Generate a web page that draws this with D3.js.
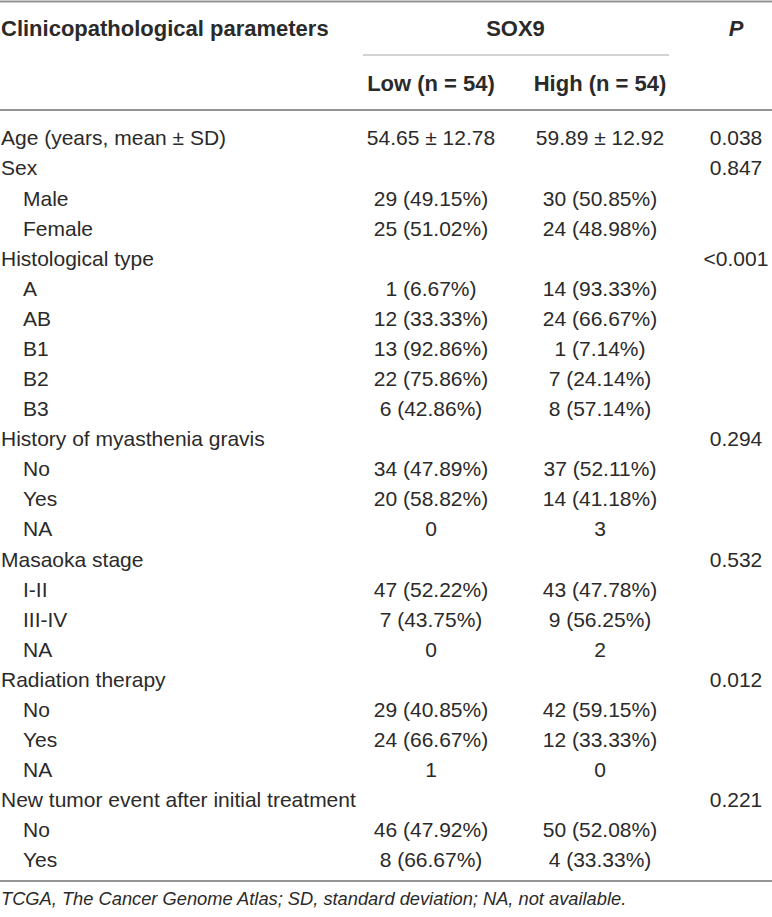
<!DOCTYPE html>
<html>
<head>
<meta charset="utf-8">
<script src="https://cdn.jsdelivr.net/npm/d3@7"></script>
<style>
  body { margin: 0; background: white; }
  text { font-family: "Liberation Sans", Arial, sans-serif; fill: #2b2a2a; }
</style>
</head>
<body>
<script>
// table data
const rowLabels = [
  "Age (years, mean \u00b1 SD)", "Sex", "Male", "Female",
  "Histological type", "A", "AB", "B1", "B2", "B3",
  "History of myasthenia gravis", "No", "Yes", "NA",
  "Masaoka stage", "I-II", "III-IV", "NA",
  "Radiation therapy", "No", "Yes", "NA",
  "New tumor event after initial treatment", "No", "Yes"
]
const lowValues = [
  "54.65 \u00b1 12.78", "", "29 (49.15%)", "25 (51.02%)",
  "", "1 (6.67%)", "12 (33.33%)", "13 (92.86%)", "22 (75.86%)", "6 (42.86%)",
  "", "34 (47.89%)", "20 (58.82%)", "0",
  "", "47 (52.22%)", "7 (43.75%)", "0",
  "", "29 (40.85%)", "24 (66.67%)", "1",
  "", "46 (47.92%)", "8 (66.67%)"
]
const highValues = [
  "59.89 \u00b1 12.92", "", "30 (50.85%)", "24 (48.98%)",
  "", "14 (93.33%)", "24 (66.67%)", "1 (7.14%)", "7 (24.14%)", "8 (57.14%)",
  "", "37 (52.11%)", "14 (41.18%)", "3",
  "", "43 (47.78%)", "9 (56.25%)", "2",
  "", "42 (59.15%)", "12 (33.33%)", "0",
  "", "50 (52.08%)", "4 (33.33%)"
]
const pValues = [
  "0.038", "0.847", "", "",
  "<0.001", "", "", "", "", "",
  "0.294", "", "", "",
  "0.532", "", "", "",
  "0.012", "", "", "",
  "0.221", "", ""
]
const groupLabel = "SOX9"
const columnLabels = ["Low (n = 54)", "High (n = 54)"]
const footnote = "TCGA, The Cancer Genome Atlas; SD, standard deviation; NA, not available."

const width = 772, height = 917

const svg = d3.select("body")
  .append("svg")
    .attr("width", width)
    .attr("height", height)

svg.append("rect")
    .attr("width", width)
    .attr("height", height)
    .attr("fill", "white")

// row positions
const y = d3.scalePoint()
  .domain(d3.range(rowLabels.length))
  .range([138, 860])

// column centres
const x = d3.scaleOrdinal()
  .domain(["low", "high", "p"])
  .range([431, 600, 736])

// rules
svg.append("line")
    .attr("x1", 0).attr("x2", width)
    .attr("y1", 1.5).attr("y2", 1.5)
    .attr("stroke", "#949494").attr("stroke-width", 2)
svg.append("line")
    .attr("x1", 363).attr("x2", 669)
    .attr("y1", 55).attr("y2", 55)
    .attr("stroke", "#a8a8a8").attr("stroke-width", 1.2)
svg.append("line")
    .attr("x1", 0).attr("x2", width)
    .attr("y1", 110).attr("y2", 110)
    .attr("stroke", "#949494").attr("stroke-width", 2)
svg.append("line")
    .attr("x1", 0).attr("x2", width)
    .attr("y1", 881).attr("y2", 881)
    .attr("stroke", "#949494").attr("stroke-width", 2)

// header
const head = svg.append("g")
  .attr("font-weight", "bold")
  .attr("font-size", 22)
  .attr("dominant-baseline", "central")

head.append("text")
    .attr("x", 1).attr("y", 28)
    .text("Clinicopathological parameters")
head.append("text")
    .attr("x", (x("low") + x("high")) / 2).attr("y", 28)
    .attr("text-anchor", "middle")
    .text(groupLabel)
head.append("text")
    .attr("x", x("p")).attr("y", 28)
    .attr("text-anchor", "middle")
    .attr("font-style", "italic")
    .text("P")
head.selectAll(".col")
  .data(columnLabels)
  .join("text")
    .attr("class", "col")
    .attr("x", (d, i) => x(i == 0 ? "low" : "high"))
    .attr("y", 83)
    .attr("text-anchor", "middle")
    .text(d => d)

// body rows
const rows = svg.append("g")
  .attr("font-size", 21)
  .selectAll("g")
  .data(rowLabels)
  .join("g")
    .attr("transform", (d, i) => `translate(0, ${y(i)})`)

rows.append("text")
    .attr("x", (d, i) => (i > 0 && pValues[i] == "") ? 23 : 1)
    .attr("dy", "0.35em")
    .text(d => d)

rows.append("text")
    .attr("x", x("low"))
    .attr("dy", "0.35em")
    .attr("text-anchor", "middle")
    .text((d, i) => lowValues[i])

rows.append("text")
    .attr("x", x("high"))
    .attr("dy", "0.35em")
    .attr("text-anchor", "middle")
    .text((d, i) => highValues[i])

rows.append("text")
    .attr("x", x("p"))
    .attr("dy", "0.35em")
    .attr("text-anchor", "middle")
    .text((d, i) => pValues[i])

// footnote
svg.append("text")
    .attr("x", 1)
    .attr("y", 899)
    .attr("dy", "0.35em")
    .attr("font-size", 18.3)
    .attr("font-style", "italic")
    .text(footnote)
</script>
</body>
</html>
